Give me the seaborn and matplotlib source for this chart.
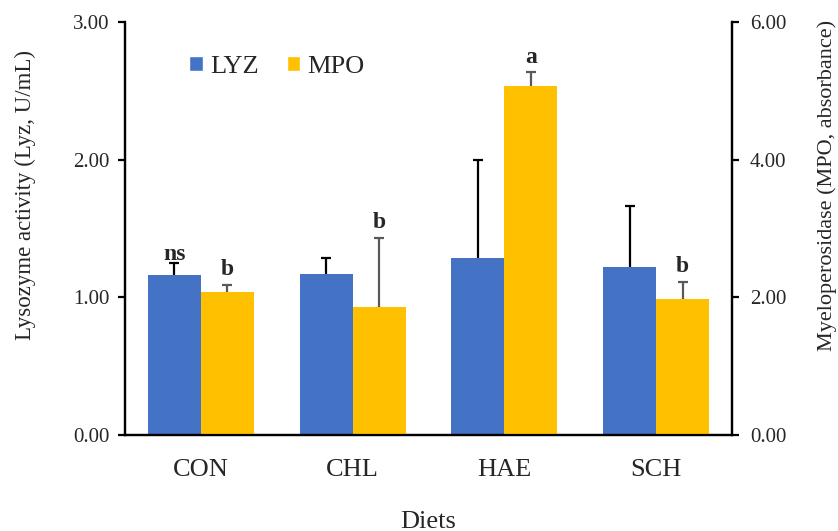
import matplotlib
matplotlib.use("Agg")
import matplotlib.pyplot as plt
import pandas as pd
import seaborn as sns
from matplotlib.patches import Patch
from matplotlib.ticker import FixedLocator

diets = ["CON", "CHL", "HAE", "SCH"]
lyz = [1.16, 1.17, 1.285, 1.22]
lyz_err = [0.09, 0.115, 0.71, 0.44]
mpo = [2.08, 1.86, 5.07, 1.975]
mpo_err = [0.10, 1.00, 0.20, 0.245]
lyz_marks = ["ns", "", "", ""]
mpo_marks = ["b", "b", "a", "b"]

blue = "#4472C4"
gold = "#FFC000"

sns.set_style("white")
plt.rcParams["font.family"] = ["Liberation Serif", "DejaVu Serif"]

df_lyz = pd.DataFrame({"diet": diets, "val": lyz, "series": "LYZ"})
df_mpo = pd.DataFrame({"diet": diets, "val": mpo, "series": "MPO"})

fig = plt.figure(figsize=(8.38, 5.31), dpi=100)
ax = fig.add_axes([0.1492, 0.1808, 0.7243, 0.7778])
ax2 = ax.twinx()

pal = {"LYZ": blue, "MPO": gold}
for a, d in ((ax, df_lyz), (ax2, df_mpo)):
    sns.barplot(data=d, x="diet", y="val", hue="series", hue_order=["LYZ", "MPO"],
                order=diets, palette=pal, width=0.7, dodge=True, ax=a, legend=False,
                errorbar=None, saturation=1, edgecolor="none")


def up_errorbar(a, xc, h, e, color):
    # only the upper half of the error bar, with a cap on top
    _, caps, _ = a.errorbar(xc, h, yerr=[[0], [e]], color=color, lw=1.6,
                            capsize=3.5, capthick=1.6)
    for c in caps:
        if abs(c.get_ydata()[0] - h) < 1e-9:
            c.set_visible(False)


# error bars and significance letters
lyz_bars = sorted([p for p in ax.patches if p.get_height() > 0], key=lambda p: p.get_x())
mpo_bars = sorted([p for p in ax2.patches if p.get_height() > 0], key=lambda p: p.get_x())
for p, e, m in zip(lyz_bars, lyz_err, lyz_marks):
    xc = p.get_x() + p.get_width() / 2
    h = p.get_height()
    up_errorbar(ax, xc, h, e, "black")
    if m:
        ax.annotate(m, (xc, h + e), xytext=(0, 2), textcoords="offset points",
                    ha="center", va="baseline", fontsize=17, fontweight="bold")
for p, e, m in zip(mpo_bars, mpo_err, mpo_marks):
    xc = p.get_x() + p.get_width() / 2
    h = p.get_height()
    up_errorbar(ax2, xc, h, e, "#595959")
    if m:
        ax2.annotate(m, (xc, h + e), xytext=(0, 7), textcoords="offset points",
                     ha="center", va="baseline", fontsize=17, fontweight="bold")

ax.set_xlim(-0.5, 3.5)
ax.set_ylim(0, 3)
ax2.set_ylim(0, 6)
ax.set_yticks([0, 1, 2, 3])
ax.set_yticklabels(["0.00", "1.00", "2.00", "3.00"])
ax2.set_yticks([0, 2, 4, 6])
ax2.set_yticklabels(["0.00", "2.00", "4.00", "6.00"])

ax.xaxis.set_minor_locator(FixedLocator([-0.5, 0.5, 1.5, 2.5, 3.5]))
ax.tick_params(axis="x", which="major", length=0, labelsize=19, pad=17)
ax.tick_params(axis="x", which="minor", length=6, width=1.6, direction="out", color="black")
ax.tick_params(axis="y", length=5, width=1.6, direction="out", labelsize=15, color="black", pad=6)
ax2.tick_params(axis="y", length=5, width=1.6, direction="out", labelsize=15, color="black", pad=8)

for a in (ax, ax2):
    a.spines["top"].set_visible(False)
    for s in ("left", "right", "bottom"):
        a.spines[s].set_linewidth(1.6)
        a.spines[s].set_color("black")

ax.set_xlabel("Diets", fontsize=19)
ax.xaxis.set_label_coords(0.5, -0.185)
ax.set_ylabel("Lysozyme activity (Lyz, U/mL)", fontsize=16.5)
ax.yaxis.set_label_coords(-0.147, 0.58)
ax2.set_ylabel("Myeloperosidase (MPO, absorbance)", fontsize=16, rotation=90)
ax2.yaxis.set_label_coords(1.14, 0.605)

handles = [Patch(facecolor=blue, label="LYZ"), Patch(facecolor=gold, label="MPO")]
ax.legend(handles=handles, loc="center left", bbox_to_anchor=(0.067, 0.892), ncol=2,
          frameon=False, fontsize=19, handlelength=0.5, handleheight=0.5,
          handletextpad=0.27, columnspacing=1.08)

fig.savefig("out.png", dpi=100)
